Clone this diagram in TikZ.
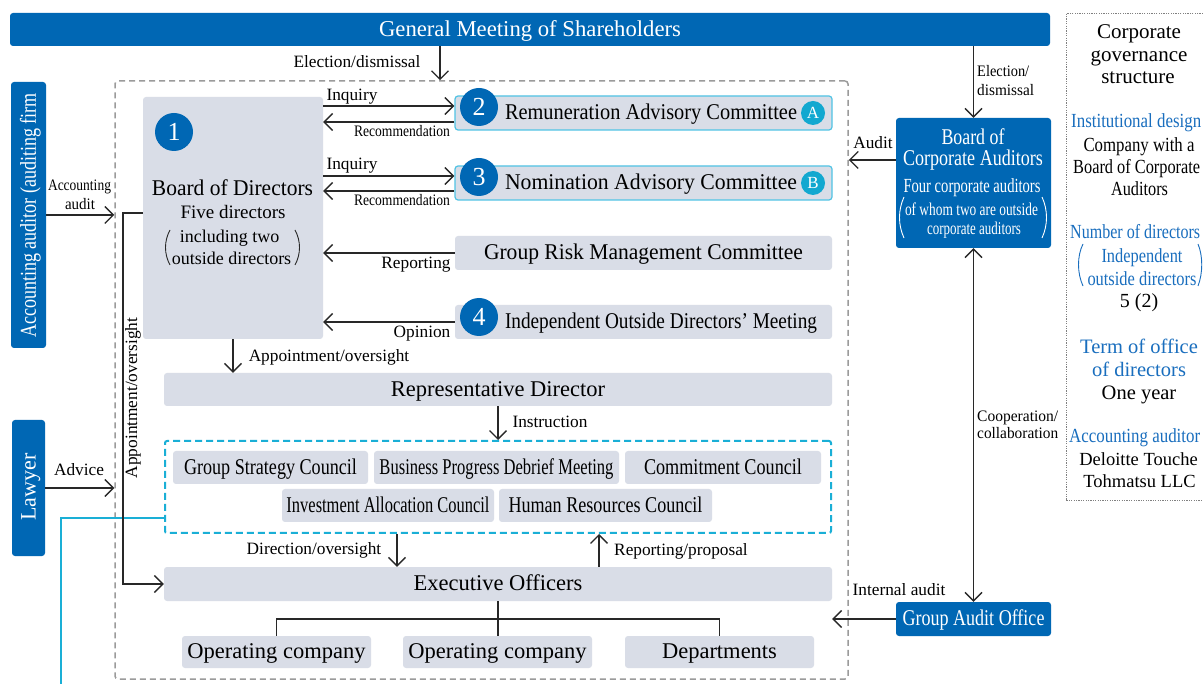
\documentclass[tikz,border=0pt]{standalone}
\usepackage{fontspec}
\setmainfont{Liberation Serif}
\usetikzlibrary{arrows.meta,calc}
\definecolor{cblue}{RGB}{0,103,180}
\definecolor{lgray}{RGB}{217,221,231}
\definecolor{cyanb}{RGB}{80,195,228}
\definecolor{cyand}{RGB}{26,175,214}
\definecolor{cyanf}{RGB}{18,168,208}
\definecolor{dk}{RGB}{40,40,40}
\definecolor{gdash}{RGB}{155,155,155}
\definecolor{tblue}{RGB}{25,110,190}
\newcommand{\fitw}[2]{\resizebox{#1pt}{\height}{#2}}
\newcommand{\fsz}[1]{\fontsize{#1}{#1}\selectfont}
\newcommand{\vst}{\rule[-0.22em]{0pt}{1.04em}}
\begin{document}
\begin{tikzpicture}[x=1pt,y=-1pt,
  tx/.style={inner sep=0pt, font=\fsz{#1}, execute at begin node=\vst},
  box/.style={fill=lgray, rounded corners=3pt, minimum height=33pt, inner sep=0pt, font=\fsz{22.5}, execute at begin node=\vst},
  bbox/.style={fill=cblue, rounded corners=3pt, text=white, inner sep=0pt, font=\fsz{22.5}, execute at begin node=\vst},
  numc/.style={circle, fill=cblue, text=white, minimum size=38pt, inner sep=0pt, font=\fsz{26}},
  letc/.style={circle, fill=cyanf, text=white, minimum size=24pt, inner sep=0pt, font=\fsz{17}},
  arr/.style={dk, line width=1.4pt, -{Straight Barb[length=8.5pt,width=17pt]}},
  darr/.style={dk, line width=1.4pt, {Straight Barb[length=8.5pt,width=17pt]}-{Straight Barb[length=8.5pt,width=17pt]}},
  ln/.style={dk, line width=1.4pt},
  paren/.style={line width=0.9pt}
]
\path[use as bounding box, clip] (0,0) rectangle (1203,684);
\fill[white] (0,0) rectangle (1203,684);

% General meeting
\node[bbox, minimum width=1040pt, minimum height=33pt, font=\fsz{22.7}] (gm) at (530,29.5) {General Meeting of Shareholders};

% main dashed frame
\node[draw=gdash, dash pattern=on 6pt off 4pt, line width=1.5pt, rounded corners=3pt, minimum width=733pt, minimum height=598pt, inner sep=0pt] (mb) at (481.5,380) {};
\coordinate (xe) at (440,0);
\draw[arr] (gm.south -| xe) -- (mb.north -| xe);
\node[tx=17.3] (lel) at (357,62) {Election/dismissal};

% Board of directors
\node[box, minimum width=180pt, minimum height=242pt] (bod) at (233,218) {};
\node[numc] (n1) at (174,132) {1};
\node[tx=22.5] (bodt) at (232.5,189) {\fitw{161}{Board of Directors}};
\node[tx=19] (bod2) at (233,213) {Five directors};
\node[tx=18] (bod3) at (229.5,237) {including two};
\node[tx=18] (bod4) at (231.5,259) {outside directors};
\draw[paren, dk] (170,230) .. controls (164,241) and (164,254) .. (170,265);
\draw[paren, dk] (295,230) .. controls (301,241) and (301,254) .. (295,265);

% Committees
\node[box, minimum width=377pt, minimum height=34pt, draw=cyanb, line width=1.2pt] (rem) at (643.5,113) {};
\node[tx=22.5] (remt) at (651,113) {\fitw{292}{Remuneration Advisory Committee}};
\node[numc] (n2) at (479,107) {2};
\node[letc] (la) at (813,113) {A};

\node[box, minimum width=377pt, minimum height=34pt, draw=cyanb, line width=1.2pt] (nom) at (643.5,183) {};
\node[tx=22.5] (nomt) at (651,183) {\fitw{292}{Nomination Advisory Committee}};
\node[numc] (n3) at (479,177) {3};
\node[letc] (lb) at (813,183) {B};

\node[box, minimum width=377pt, minimum height=34pt] (grm) at (643.5,253) {\fitw{319}{Group Risk Management Committee}};

\node[box, minimum width=377pt, minimum height=34pt] (iod) at (643.5,322) {};
\node[tx=22.5] (iodt) at (661,322) {\fitw{312}{Independent Outside Directors’ Meeting}};
\node[numc] (n4) at (479,317) {4};

% arrows board <-> committees
\draw[arr] ([yshift=7pt]rem.west -| bod.east) -- ([yshift=7pt]rem.west);
\draw[arr] ([yshift=-9pt]rem.west) -- ([yshift=-9pt]rem.west -| bod.east);
\draw[arr] ([yshift=7pt]nom.west -| bod.east) -- ([yshift=7pt]nom.west);
\draw[arr] ([yshift=-8pt]nom.west) -- ([yshift=-8pt]nom.west -| bod.east);
\draw[arr] (grm.west) -- (grm.west -| bod.east);
\draw[arr] (iod.west) -- (iod.west -| bod.east);
\node[tx=17.3] (lq1) at (352,95) {Inquiry};
\node[tx=16] (lr1) at (402,132) {\fitw{96}{Recommendation}};
\node[tx=17.3] (lq2) at (352,164) {Inquiry};
\node[tx=16] (lr2) at (402,201) {\fitw{96}{Recommendation}};
\node[tx=17.3] (lrp) at (416,263) {Reporting};
\node[tx=17.3] (lop) at (422,332) {Opinion};

% Representative director
\node[box, minimum width=668pt] (rep) at (498,389.5) {Representative Director};
\draw[arr] (bod.south) -- (bod.south |- rep.north);
\node[tx=17.3] (lapp) at (329,356) {Appointment/oversight};

% Councils
\node[draw=cyand, dash pattern=on 7pt off 4pt, line width=2pt, rounded corners=2pt, minimum width=666pt, minimum height=92pt, inner sep=0pt] (cb) at (498,487) {};
\draw[arr] (rep.south) -- (cb.north);
\node[tx=17.3] (lins) at (550,422) {Instruction};
\node[box, minimum width=195pt] (gsc) at (270.5,467.5) {\fitw{173}{Group Strategy Council}};
\node[box, minimum width=245pt] (bpd) at (496.5,467.5) {\fitw{234}{Business Progress Debrief Meeting}};
\node[box, minimum width=196pt] (cmc) at (723,467.5) {\fitw{158}{Commitment Council}};
\node[box, minimum width=212pt] (iac) at (388,505.5) {\fitw{203}{Investment Allocation Council}};
\node[box, minimum width=213pt] (hrc) at (605.5,505.5) {\fitw{194}{Human Resources Council}};

% Executive officers
\node[box, minimum width=668pt, minimum height=34pt] (exo) at (498,584) {Executive Officers};
\coordinate (xd) at (397,0);
\coordinate (xr) at (599,0);
\draw[arr] (cb.south -| xd) -- (exo.north -| xd);
\draw[arr] (exo.north -| xr) -- (cb.south -| xr);
\node[tx=17.3] (ldir) at (314,549) {Direction/oversight};
\node[tx=17.3] (lrpp) at (681,550) {Reporting/proposal};

% Bottom tree
\node[box, minimum width=189pt, minimum height=32pt] (op1) at (276.5,652) {Operating company};
\node[box, minimum width=189pt, minimum height=32pt] (op2) at (497.5,652) {Operating company};
\node[box, minimum width=189pt, minimum height=32pt] (dep) at (719.5,652) {Departments};
\draw[ln] (exo.south) -- (exo.south |- op2.north);
\draw[ln] (op1.north) -- ++(0,-17) -| (dep.north);

% Left: accounting auditor and lawyer
\node[bbox, minimum width=35pt, minimum height=266pt] (aa) at (28.5,215) {};
\node[tx=22.7, text=white, rotate=90] (aat) at (29,215.5) {\fitw{245}{Accounting auditor (auditing firm}};
\draw[arr] (aa.east) -- (aa.east -| mb.west);
\node[tx=16] (lac1) at (79.5,186) {\fitw{63}{Accounting}};
\node[tx=16] (lac2) at (80,205) {\fitw{30}{audit}};

\node[bbox, minimum width=33pt, minimum height=136pt] (law) at (28.5,488) {};
\node[tx=22, text=white, rotate=90] (lawt) at (29,487) {Lawyer};
\draw[arr] (law.east) -- (law.east -| mb.west);
\node[tx=17.3] (ladv) at (79,470) {Advice};

% cyan link
\coordinate (cyend) at (61,700);
\draw[cyand, line width=2pt] ([yshift=-31pt]cb.west) -| (cyend);

% Appointment/oversight left path
\draw[arr] ([yshift=5pt]bod.west) -- ++(-20,0) |- (exo.west);
\node[tx=17.3, rotate=90] (lapp2) at (132,398) {Appointment/oversight};

% Board of Corporate Auditors
\node[bbox, minimum width=155pt, minimum height=130pt] (bca) at (973.5,183) {};
\node[tx=22.5, text=white] (bca1) at (973,138) {\fitw{63}{Board of}};
\node[tx=22.5, text=white] (bca2) at (973,159) {\fitw{140}{Corporate Auditors}};
\node[tx=20, text=white] (bca3) at (972,187) {\fitw{137}{Four corporate auditors}};
\node[tx=18, text=white] (bca4) at (971.5,210) {\fitw{133}{of whom two are outside}};
\node[tx=18, text=white] (bca5) at (974,229) {\fitw{94}{corporate auditors}};
\draw[paren, white] (904,197) .. controls (898,210) and (898,225) .. (904,238);
\draw[paren, white] (1042,197) .. controls (1048,210) and (1048,225) .. (1042,238);
\draw[arr] (gm.south -| bca.north) -- (bca.north);
\node[tx=16, anchor=west] (le1) at (977,72) {\fitw{52}{Election/}};
\node[tx=16, anchor=west] (le2) at (977,91) {\fitw{57}{dismissal}};
\draw[arr] ([yshift=23pt]bca.west) -- ([yshift=23pt]bca.west -| mb.east);
\node[tx=17.3] (laud) at (873,143) {Audit};

% Group audit office
\node[bbox, minimum width=155pt, minimum height=34pt] (gao) at (973.5,619) {\fitw{142}{Group Audit Office}};
\draw[darr] (bca.south) -- (gao.north);
\node[tx=16, anchor=west] (lc1) at (977,417) {\fitw{81}{Cooperation/}};
\node[tx=16, anchor=west] (lc2) at (977,434) {\fitw{81}{collaboration}};
\draw[arr] (gao.west) -- (gao.west -| exo.east);
\node[tx=17.3] (lia) at (899,590) {Internal audit};

% Info panel
\node[draw=gray, dash pattern=on 1.2pt off 1.2pt, line width=0.9pt, minimum width=150pt, minimum height=487pt, inner sep=0pt, anchor=north west] (info) at (1066,13) {};
\node[tx=21] (c1) at (1139,32) {Corporate};
\node[tx=21] (c2) at (1139,55) {governance};
\node[tx=21] (c3) at (1138,77) {structure};
\node[tx=20, text=tblue, anchor=west] (i1) at (1071,122) {\fitw{130}{Institutional design}};
\node[tx=20] (i2) at (1139,146) {\fitw{111}{Company with a}};
\node[tx=20, anchor=west] (i3) at (1073,168) {\fitw{127}{Board of Corporate}};
\node[tx=20] (i4) at (1139.5,190) {\fitw{57}{Auditors}};
\node[tx=20, text=tblue, anchor=west] (d1) at (1070,233) {\fitw{130}{Number of directors}};
\node[tx=20, text=tblue] (d2) at (1142,257) {\fitw{81}{Independent}};
\node[tx=20, text=tblue] (d3) at (1142,280) {\fitw{109}{outside directors}};
\draw[paren, tblue] (1083,244) .. controls (1077,256) and (1077,273) .. (1083,286);
\draw[paren, tblue] (1198,244) .. controls (1203,256) and (1203,273) .. (1198,286);
\node[tx=20] (d4) at (1139,302) {5 (2)};
\node[tx=20.5, text=tblue] (o1) at (1139,347) {Term of office};
\node[tx=20.5, text=tblue] (o2) at (1139,370) {of directors};
\node[tx=20.5] (o3) at (1139,393) {One year};
\node[tx=20, text=tblue, anchor=west] (a1) at (1069,437) {\fitw{131}{Accounting auditor}};
\node[tx=18.5] (a2) at (1138.5,460) {Deloitte Touche};
\node[tx=18.5] (a3) at (1139.5,482) {Tohmatsu LLC};
\end{tikzpicture}
\end{document}
